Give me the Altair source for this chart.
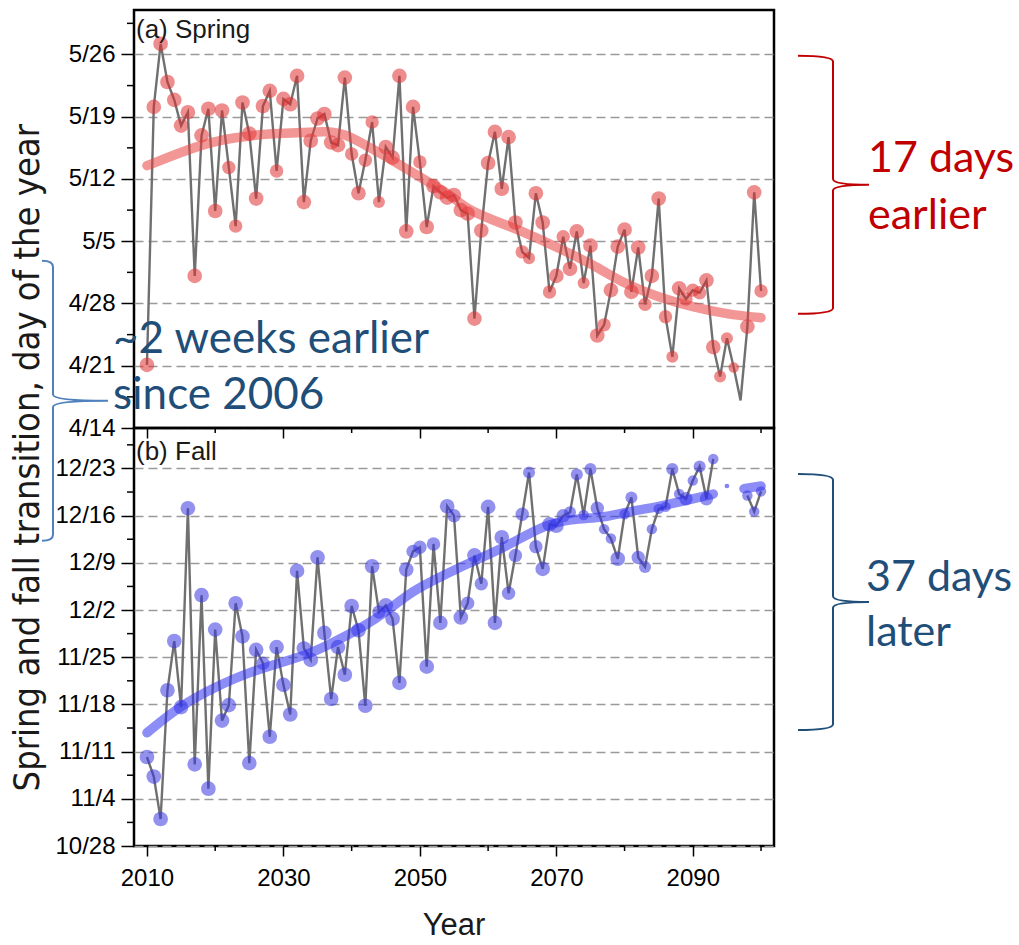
import altair as alt
import pandas as pd

# ---------------- data ----------------
years = list(range(2010, 2101))

# spring transition, day of year
spring_doy = [111.1, 140.1, 147.2, 142.9, 140.9, 138.0, 139.5, 121.1, 136.9, 139.9,
              128.4, 139.7, 133.3, 126.7, 140.6, 137.1, 129.8, 140.2, 141.9, 132.9,
              141.0, 140.4, 143.6, 129.4, 136.3, 138.8, 139.3, 136.1, 135.8, 143.4,
              134.8, 130.4, 134.1, 138.4, 129.4, 135.6, 134.4, 143.6, 126.1, 140.1,
              133.9, 126.6, 131.2, 130.5, 129.9, 130.2, 128.5, 128.1, 116.3, 126.2,
              133.8, 137.3, 130.9, 136.7, 127.1, 123.8, 123.1, 130.4, 127.1, 119.3,
              121.1, 125.5, 121.9, 126.1, 120.3, 124.5, 114.4, 115.6, 119.5, 124.4,
              126.3, 119.3, 124.3, 117.9, 121.1, 129.8, 116.5, 112.0, 119.7, 118.5,
              119.5, 119.2, 120.6, 113.1, 109.8, 114.1, 110.8, 107.1, 115.4, 130.5,
              119.4]
# marker class per year (L large, M medium, S small, T tiny, 0 none)
spring_cls = list("LLLLLLLLLL" "LLMMLLLLLM" "LLLLLLLLLL" "MLMMSLLLLL" "MLLLLLLLLL"
                  "LLLLLMSLLM" "LMLLSLLMLL" "LLLMLLMSLM" "MMLLSST0LL" "M")

# fall transition, day of year (None = no value)
fall_doy = [314.2, 311.3, 305.0, 324.1, 331.4, 321.6, 351.1, 313.1, 338.2, 309.5,
            333.1, 319.6, 321.9, 337.0, 332.1, 313.3, 330.1, 328.1, 317.2, 330.5,
            324.9, 320.5, 341.8, 330.3, 328.6, 343.8, 332.6, 322.8, 330.5, 326.4,
            336.6, 333.0, 321.8, 342.5, 335.7, 336.7, 334.7, 325.2, 342.0, 344.7,
            345.3, 327.6, 345.8, 334.1, 351.4, 350.0, 334.9, 337.0, 344.1, 339.9,
            351.3, 334.1, 346.8, 338.5, 344.1, 350.2, 356.4, 345.4, 342.1, 348.7,
            348.5, 350.0, 350.5, 356.1, 350.1, 356.9, 351.1, 348.0, 346.6, 343.6,
            350.2, 352.7, 343.8, 342.4, 348.0, 351.0, 351.3, 356.9, 353.2, 352.5,
            355.2, 357.3, 352.5, 358.4, None, None, None, None, 353.0, 350.6,
            353.6]
fall_cls = list("LLLLLLLLLL" "LLLLLLLMLL" "LLLLLLLLLL" "LLLLMLLLLM" "MLMLLMLMLM"
                "LLLMMMSMLL" "LMSSTSMTTL" "TSMSTTTSTM" "TSMT0000TT" "T")

spring_trend_year = [2010, 2013, 2018, 2023, 2028, 2033, 2036, 2039, 2042, 2046, 2050,
                     2054, 2057, 2061, 2066, 2071, 2076, 2080, 2085, 2090, 2095, 2100]
spring_trend_doy = [133.5, 134.4, 135.9, 136.7, 137.1, 137.2, 137.4, 137.1, 135.8, 134.1, 132.2,
                    130.5, 128.5, 127.3, 125.8, 124.0, 122.1, 120.2, 118.7, 117.6, 116.8, 116.4]

fall_trend_year = [2010, 2015, 2020, 2025, 2030, 2034, 2037, 2042, 2045, 2049, 2053,
                   2056, 2058, 2063, 2068, 2072, 2077, 2080, 2085, 2090, 2093]
fall_trend_doy = [317.8, 321.9, 324.6, 326.8, 328.3, 329.6, 331.0, 333.7, 335.7, 338.9, 340.9,
                  342.4, 343.3, 345.6, 348.5, 349.5, 349.7, 350.5, 351.3, 352.5, 353.2]
fall_trend_tail_year = [2097.5, 2100]
fall_trend_tail_doy = [354.0, 354.4]
fall_trend_dot_year = [2095]
fall_trend_dot_doy = [354.4]

spring_ticks = [104, 111, 118, 125, 132, 139, 146]          # 4/14 ... 5/26
spring_minor = [107.5, 114.5, 121.5, 128.5, 135.5, 142.5, 149.5]
fall_ticks = [301, 308, 315, 322, 329, 336, 343, 350, 357]   # 10/28 ... 12/23
fall_minor = [304.5, 311.5, 318.5, 325.5, 332.5, 339.5, 346.5, 353.5, 360.5]
x_major = [2010, 2030, 2050, 2070, 2090]
x_minor = [2020, 2040, 2060, 2080, 2100]

# ---------------- tables ----------------
spring_df = pd.DataFrame({"year": years, "doy": spring_doy, "cls": spring_cls})
spring_df["seg"] = 0
fall_df = pd.DataFrame({"year": years, "doy": fall_doy, "cls": fall_cls})
fall_df["seg"] = (fall_df["year"] > 2093).astype(int)
fall_df = fall_df.dropna()

spring_tr = pd.DataFrame({"year": spring_trend_year, "doy": spring_trend_doy, "seg": 0})
fall_tr = pd.concat([
    pd.DataFrame({"year": fall_trend_year, "doy": fall_trend_doy, "seg": 0}),
    pd.DataFrame({"year": fall_trend_tail_year, "doy": fall_trend_tail_doy, "seg": 1}),
])
fall_dot = pd.DataFrame({"year": fall_trend_dot_year, "doy": fall_trend_dot_doy})
one = pd.DataFrame({"k": [0]})

# ---------------- styling ----------------
W, H = 640, 418
x_scale = alt.Scale(domain=[2008.1, 2101.9], nice=False, zero=False)
# day-of-year -> m/d (non-leap year)
SPRING_EXPR = "datum.value <= 120 ? '4/' + (datum.value - 90) : '5/' + (datum.value - 120)"
FALL_EXPR = ("datum.value <= 304 ? '10/' + (datum.value - 273) : "
             "(datum.value <= 334 ? '11/' + (datum.value - 304) : '12/' + (datum.value - 334))")
SIZE_DOM = ["L", "M", "S", "T"]
SIZE_RNG = [215, 110, 40, 10]
ANN_FONT = "Lato"
NARROW = "Liberation Sans Narrow, DejaVu Sans Condensed, Roboto Condensed, Liberation Sans, sans-serif"


def brace(hook, tip, curl=0.045):
    return (f"M {hook:.4f} -1 Q 0 -1 0 {-1 + curl:.4f} L 0 {-curl:.4f} Q 0 0 {tip:.4f} 0 "
            f"Q 0 0 0 {curl:.4f} L 0 {1 - curl:.4f} Q 0 1 {hook:.4f} 1")


def txt(s, x, y, size, color, font=ANN_FONT, **kw):
    return alt.Chart(one).mark_text(text=s, align="left", baseline="alphabetic",
                                    font=font, fontSize=size, color=color, **kw).encode(
        x=alt.value(x), y=alt.value(y))


def brace_mark(x, y, half, hook_px, tip_px, color):
    return alt.Chart(one).mark_point(shape=brace(hook_px / half, tip_px / half),
                                     size=(2 * half) ** 2, filled=False, color=color,
                                     strokeWidth=2, opacity=1).encode(
        x=alt.value(x), y=alt.value(y))


def panel(df, tr, ydom, yticks, yminor, label_expr, color, trend_color, tag, tag_y,
          x_labels, extra):
    ys = alt.Scale(domain=ydom, nice=False, zero=False)
    yax = alt.Axis(values=yticks, labelExpr=label_expr, title=None, domain=False,
                   tickSize=13, tickColor="black", tickWidth=1.5,
                   labelFont="Liberation Sans", labelFontSize=24, labelColor="black",
                   labelPadding=6, grid=True, gridDash=[9, 5], gridColor="#9a9a9a",
                   gridWidth=1.5)
    xax = alt.Axis(values=x_major, format="d", title=None, domain=False, grid=False,
                   tickSize=10, tickColor="black", tickWidth=1.5, labels=x_labels,
                   labelFont="Liberation Sans", labelFontSize=24, labelColor="black",
                   labelPadding=10)
    X = lambda f: alt.X(f, scale=x_scale)
    Y = lambda f: alt.Y(f, scale=ys)
    base = alt.Chart(df)
    line = base.mark_line(color="#707070", strokeWidth=2.4).encode(
        x=alt.X("year:Q", scale=x_scale, axis=xax),
        y=alt.Y("doy:Q", scale=ys, axis=yax),
        detail="seg:N")
    pts = base.transform_filter("datum.cls != '0'").mark_circle(
        color=color, opacity=0.55).encode(
        x=X("year:Q"), y=Y("doy:Q"),
        size=alt.Size("cls:N", scale=alt.Scale(domain=SIZE_DOM, range=SIZE_RNG), legend=None))
    trend = alt.Chart(tr).mark_line(color=trend_color, strokeWidth=9.5, opacity=0.55,
                                    interpolate="basis", strokeCap="round").encode(
        x=X("year:Q"), y=Y("doy:Q"), detail="seg:N")
    ymin = alt.Chart(pd.DataFrame({"doy": yminor})).mark_rule(color="black", strokeWidth=1.5).encode(
        y=Y("doy:Q"), x=alt.value(0), x2=alt.value(-7))
    xmin = alt.Chart(pd.DataFrame({"year": x_minor})).mark_rule(color="black", strokeWidth=1.5).encode(
        x=X("year:Q"), y=alt.value(H), y2=alt.value(H + 5))
    label = txt(tag, 2, tag_y, 26, "#1a1a1a", font="Liberation Sans")
    layers = [line, pts, trend, ymin, xmin, label]
    for e in extra:
        layers.append(e(X, Y))
    return alt.layer(*layers).properties(width=W, height=H)


top_extra = [
    lambda X, Y: brace_mark(699, 174.7, 129, -35, 36, "#C00000"),
    lambda X, Y: txt("17 days", 734, 162.4, 43, "#C00000"),
    lambda X, Y: txt("earlier", 734, 219, 43, "#C00000"),
    lambda X, Y: brace_mark(-81, 390.7, 140, -11, 55, "#4F81BD"),
    lambda X, Y: txt("~2 weeks earlier", -21, 342.7, 44, "#1F4E79"),
    lambda X, Y: txt("since 2006", -21, 399, 44, "#1F4E79"),
    lambda X, Y: alt.Chart(one).mark_text(
        text="Spring and fall transition, day of the year", angle=270, align="center",
        baseline="middle", font=NARROW, fontSize=36, color="#1a1a1a").encode(
        x=alt.value(-106), y=alt.value(447.7)),
]

bottom_extra = [
    lambda X, Y: alt.Chart(fall_dot).mark_circle(size=22, color="#3030F0", opacity=0.6).encode(
        x=X("year:Q"), y=Y("doy:Q")),
    lambda X, Y: brace_mark(699, 174, 128, -35, 36, "#1F4E79"),
    lambda X, Y: txt("37 days", 732, 163, 43, "#1F4E79"),
    lambda X, Y: txt("later", 732, 218, 43, "#1F4E79"),
    lambda X, Y: alt.Chart(one).mark_text(
        text="Year", align="center", baseline="alphabetic", font="Liberation Sans",
        fontSize=31, color="#1a1a1a").encode(x=alt.value(W / 2), y=alt.value(507)),
]

top = panel(spring_df, spring_tr, [104, 151], spring_ticks, spring_minor, SPRING_EXPR,
            "#E03030", "#E84040", "(a) Spring", 28, False, top_extra)
bottom = panel(fall_df, fall_tr, [301, 363], fall_ticks, fall_minor, FALL_EXPR,
               "#3838E0", "#3030F0", "(b) Fall", 32, True, bottom_extra)

chart = alt.vconcat(top, bottom, spacing=0, bounds="flush").properties(
    padding={"left": 8, "top": 8, "right": 2, "bottom": 2}
).configure_view(stroke="black", strokeWidth=2.5)

chart.save("out.html", embed_options={"renderer": "svg", "actions": False})
